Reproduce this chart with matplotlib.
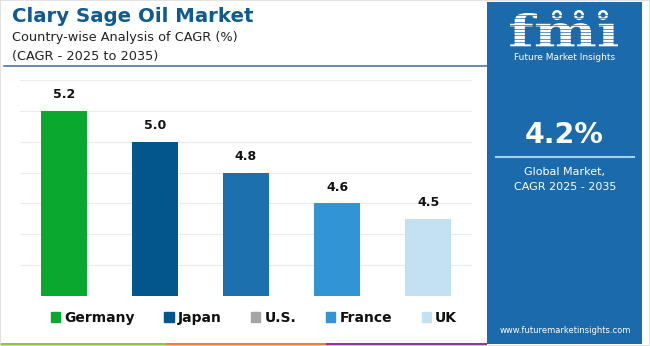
import matplotlib.pyplot as plt
from matplotlib.patches import Rectangle, Patch, PathPatch, Ellipse
from matplotlib.textpath import TextPath
from matplotlib.font_manager import FontProperties
from matplotlib.transforms import Affine2D
import numpy as np

# data
countries = ['Germany', 'Japan', 'U.S.', 'France', 'UK']
cagr = [5.2, 5.0, 4.8, 4.6, 4.5]
bar_colors = ['#0aa82e', '#03568c', '#1c70ae', '#3195d5', '#c3e1f2']
legend_colors = ['#0aa82e', '#03568c', '#a5a5a5', '#3195d5', '#c3e1f2']
global_cagr = '4.2%'

W, H = 650, 346
panel_blue = '#1b6aac'


def fx(x):
    return x / W


def fy(y):
    return 1 - y / H


plt.rcParams['font.family'] = ['DejaVu Sans']
fig = plt.figure(figsize=(6.5, 3.46), dpi=100)

# bar chart area
ax = fig.add_axes([fx(20), fy(296), fx(472) - fx(20), fy(80) - fy(296)])
x = np.arange(len(countries))
bars = ax.bar(x, cagr, width=0.5, color=bar_colors, zorder=3)
ax.set_xlim(-0.48, 4.48)
ax.set_ylim(4.0, 5.4)
ax.set_yticks([4.0, 4.2, 4.4, 4.6, 4.8, 5.0, 5.2, 5.4])
ax.grid(axis='y', color='#ebebeb', linewidth=0.8, zorder=0)
ax.tick_params(left=False, bottom=False, labelleft=False, labelbottom=False)
for s in ax.spines.values():
    s.set_visible(False)
for b, v in zip(bars, cagr):
    ax.annotate(f'{v:.1f}', (b.get_x() + b.get_width() / 2, v),
                xytext=(0, 11.5), textcoords='offset points',
                ha='center', va='center', fontsize=9, fontweight='bold',
                color='#111111')

# legend
handles = [Patch(color=c, label=n) for c, n in zip(legend_colors, countries)]
fig.legend(handles=handles, loc='center', bbox_to_anchor=(fx(254), fy(318)),
           ncol=5, frameon=False, prop={'weight': 'bold', 'size': 10},
           handlelength=0.65, handleheight=0.65, handletextpad=0.3,
           columnspacing=2.15, labelcolor='#111111')

# titles
fig.text(fx(12), fy(22), 'Clary Sage Oil Market', fontsize=14.2,
         fontweight='bold', color='#0f5a90', va='baseline')
fig.text(fx(12), fy(41.5), 'Country-wise Analysis of CAGR (%)', fontsize=9.3,
         color='#222222', va='baseline')
fig.text(fx(12), fy(60), '(CAGR - 2025 to 2035)', fontsize=9.3,
         color='#222222', va='baseline')
fig.add_artist(plt.Line2D([fx(4), fx(487)], [fy(66), fy(66)],
                          color='#3d6b94', linewidth=1.1))

# right panel
fig.add_artist(Rectangle((fx(487), fy(344)), fx(642) - fx(487), fy(2) - fy(344),
                         facecolor=panel_blue, edgecolor='none'))

# fmi logo, stretched into its box
tp = TextPath((0, 0), 'fm\u0131', prop=FontProperties(family='DejaVu Serif', weight='bold'))
bb = tp.get_extents()
x0, x1, y0, y1 = 510, 618, 13, 47
tr = Affine2D().translate(-bb.x0, -bb.y0).scale(
    (fx(x1) - fx(x0)) / bb.width, (fy(y0) - fy(y1)) / bb.height).translate(fx(x0), fy(y1))
fig.add_artist(PathPatch(tr.transform_path(tp), facecolor='white',
                         edgecolor='none', transform=fig.transFigure))
for yy in np.arange(y0 + 2, y1, 3.4):
    fig.add_artist(plt.Line2D([fx(505), fx(622)], [fy(yy), fy(yy)],
                              color=panel_blue, linewidth=0.5))
for cx in [557, 579, 603]:
    fig.add_artist(Ellipse((fx(cx), fy(15)), 10 / W, 10 / H, facecolor='white',
                           edgecolor='none', transform=fig.transFigure))
    fig.add_artist(Ellipse((fx(cx), fy(15)), 5 / W, 5 / H, facecolor=panel_blue,
                           edgecolor='none', transform=fig.transFigure))
fig.text(fx(565), fy(58), 'Future Market Insights', fontsize=6.5, color='white',
         ha='center', va='center')

fig.text(fx(564), fy(143), global_cagr, fontsize=20.5, fontweight='bold',
         color='white', ha='center', va='baseline')
fig.add_artist(plt.Line2D([fx(496), fx(634)], [fy(157), fy(157)],
                          color='#9fd0f0', linewidth=1.5))
fig.text(fx(565), fy(175), 'Global Market,', fontsize=8, color='white',
         ha='center', va='baseline')
fig.text(fx(565), fy(190), 'CAGR 2025 - 2035', fontsize=8, color='white',
         ha='center', va='baseline')
fig.text(fx(565), fy(333), 'www.futuremarketinsights.com', fontsize=6,
         color='white', ha='center', va='baseline')

# coloured strip at the bottom
for c, a, b in [('#8dc63f', 0, 166), ('#ef7b3f', 166, 326), ('#8b3c97', 326, 487)]:
    fig.add_artist(Rectangle((fx(a), fy(346)), fx(b) - fx(a), fy(343) - fy(346),
                             facecolor=c, edgecolor='none'))

# light frame round the picture
fig.add_artist(Rectangle((0, 0), 1, 1, fill=False, edgecolor='#dddddd',
                         linewidth=1.2, transform=fig.transFigure))

fig.savefig('out.png', dpi=100)
